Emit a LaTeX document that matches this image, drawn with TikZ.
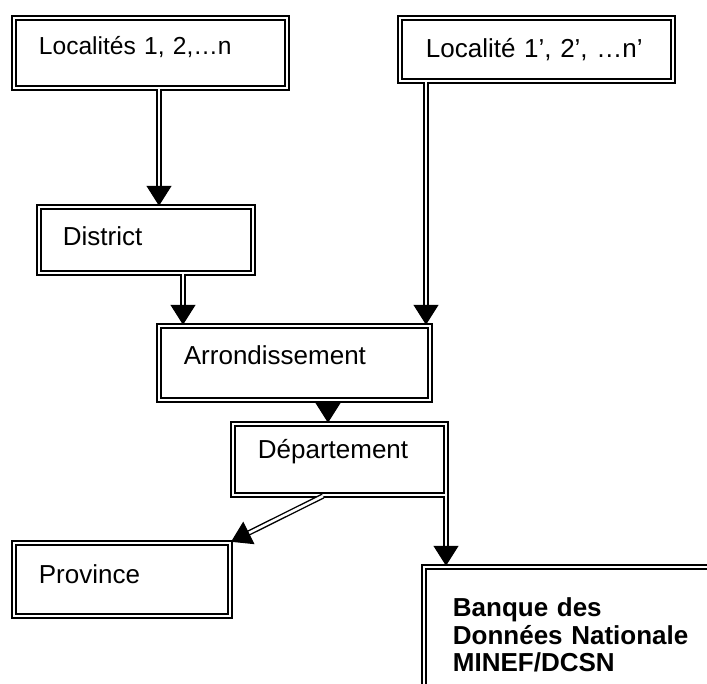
\documentclass[tikz,border=0pt]{standalone}
\usepackage{fontspec}
\setmainfont{Liberation Sans}
\usetikzlibrary{arrows.meta,calc}

\begin{document}
\begin{tikzpicture}[x=0.5pt,y=-0.5pt]
  \tikzset{boite/.style={draw,double,line width=0.9pt,double distance=1.1pt,anchor=north west,inner ysep=0pt,align=left,font=\fontsize{13}{13.75}\selectfont}}
  \tikzset{tuyau/.style={draw,double,line width=0.7pt,double distance=1.3pt}}
  \tikzset{pointe/.style={line width=0.6pt,-{Triangle[length=10pt,width=12.5pt]}}}
  \path[use as bounding box,clip] (0,0) rectangle (707,684);
  % boites
  \node[boite,text width=111.5pt,inner xsep=12.6pt,text height=18.6pt,text depth=16.6pt,font=\fontsize{12.3}{14}\selectfont] (loc) at (12.8,16.8) {Localités 1, 2,…n};
  \node[boite,text width=110.5pt,inner xsep=13.1pt,text height=20.1pt,text depth=11.6pt] (loc2) at (398.8,16.8) {Localité 1’, 2’, …n’};
  \node[boite,text width=83pt,inner xsep=12.1pt,text height=19.6pt,text depth=13.6pt] (dist) at (37.8,205.8) {District};
  \node[boite,text width=110.5pt,inner xsep=12.6pt,text height=19.6pt,text depth=17.6pt] (arr) at (157.8,324.8) {Arrondissement};
  \node[boite,text width=81.5pt,inner xsep=12.6pt,text height=17.6pt,text depth=18.1pt] (dep) at (231.8,422.8) {Département};
  \node[boite,text width=83pt,inner xsep=12.6pt,text height=20.6pt,text depth=16.1pt] (prov) at (12.8,541.8) {Province};
  \node[boite,text width=200pt,inner xsep=14.6pt,inner ysep=15.6pt,font=\bfseries\fontsize{13}{13.75}\selectfont] (bdn) at (422.8,565.8) {Banque des\\Données Nationale\\MINEF/DCSN};
  % fleches
  \coordinate (c1) at (159,0);
  \coordinate (c2) at (183,0);
  \coordinate (c3) at (426,0);
  \coordinate (c4) at (328,0);
  \coordinate (c5) at (323,0);
  \coordinate (c6) at (446,0);
  \draw[tuyau] (loc.south -| c1) -- ($(dist.north -| c1)!8pt!(loc.south -| c1)$);
  \draw[pointe] ($(dist.north -| c1)!10pt!(loc.south -| c1)$) -- (dist.north -| c1);
  \draw[tuyau] (dist.south -| c2) -- ($(arr.north -| c2)!8pt!(dist.south -| c2)$);
  \draw[pointe] ($(arr.north -| c2)!10pt!(dist.south -| c2)$) -- (arr.north -| c2);
  \draw[tuyau] (loc2.south -| c3) -- ($(arr.north -| c3)!8pt!(loc2.south -| c3)$);
  \draw[pointe] ($(arr.north -| c3)!10pt!(loc2.south -| c3)$) -- (arr.north -| c3);
  \draw[pointe] ($(dep.north -| c4)!10pt!(arr.south -| c4)$) -- (dep.north -| c4);
  \draw[tuyau] (dep.south -| c5) -- ($(prov.north east)!8pt!(dep.south -| c5)$);
  \draw[pointe] ($(prov.north east)!10pt!(dep.south -| c5)$) -- (prov.north east);
  \draw[tuyau] (dep.south -| c6) -- ($(bdn.north -| c6)!8pt!(dep.south -| c6)$);
  \draw[pointe] ($(bdn.north -| c6)!10pt!(dep.south -| c6)$) -- (bdn.north -| c6);
\end{tikzpicture}
\end{document}
